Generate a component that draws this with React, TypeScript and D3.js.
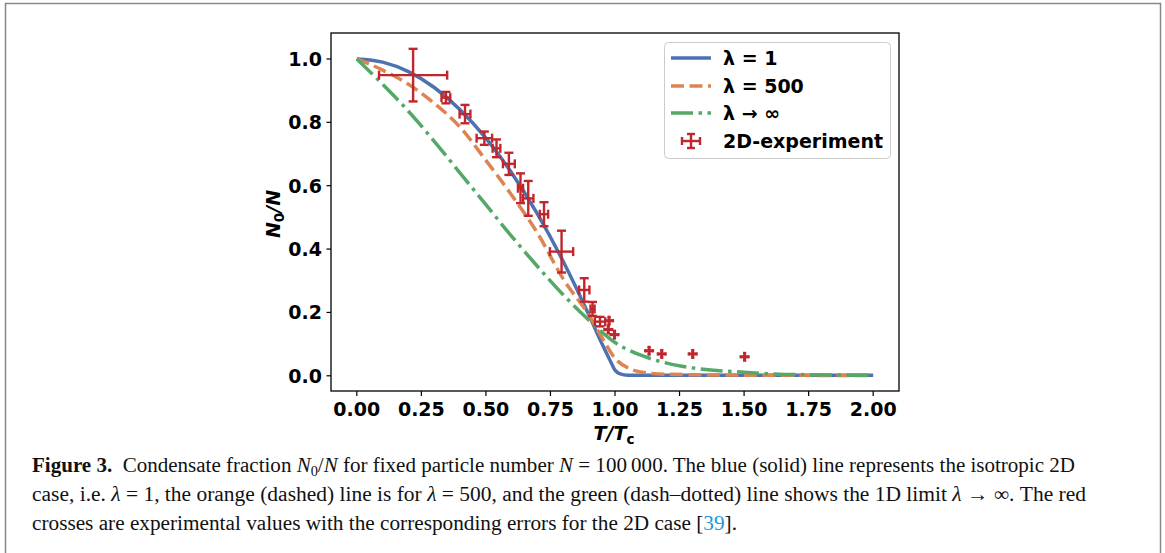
import React from "react";
import * as d3 from "d3";

// ---- data ----
const T_BLUE = [0, 0.1, 0.2, 0.3, 0.4, 0.5, 0.6, 0.7, 0.8, 0.9, 0.95, 0.98, 1.0, 1.02, 1.05, 1.2, 1.5, 2.0];
const V_BLUE = [1, 0.99, 0.96, 0.91, 0.84, 0.75, 0.64, 0.51, 0.36, 0.19, 0.1, 0.05, 0.018, 0.006, 0.002, 0.002, 0.002, 0.002];

const T_ORANGE = [0, 0.1, 0.2, 0.3, 0.4, 0.5, 0.6, 0.7, 0.8, 0.9, 0.95, 1.0, 1.05, 1.1, 1.2, 1.5, 2.0];
const V_ORANGE = [1, 0.965, 0.92, 0.86, 0.785, 0.68, 0.57, 0.45, 0.305, 0.19, 0.12, 0.055, 0.025, 0.012, 0.005, 0.002, 0.001];

const T_GREEN = [0, 0.1, 0.2, 0.3, 0.4, 0.5, 0.6, 0.7, 0.8, 0.9, 1.0, 1.1, 1.2, 1.3, 1.5, 1.7, 2.0];
const V_GREEN = [1, 0.92, 0.835, 0.74, 0.64, 0.54, 0.44, 0.345, 0.255, 0.175, 0.105, 0.065, 0.04, 0.025, 0.011, 0.004, 0.002];

const EXP_T = [0.218, 0.345, 0.419, 0.494, 0.541, 0.589, 0.634, 0.664, 0.725, 0.793, 0.881, 0.913, 0.942, 0.977, 0.974, 0.998, 1.132, 1.181, 1.301, 1.502];
const EXP_V = [0.949, 0.878, 0.826, 0.75, 0.718, 0.669, 0.592, 0.56, 0.51, 0.392, 0.271, 0.211, 0.171, 0.174, 0.146, 0.13, 0.079, 0.069, 0.069, 0.06];
const EXP_XERR = [0.132, 0.017, 0.021, 0.03, 0.015, 0.023, 0.01, 0.02, 0.016, 0.045, 0.02, 0.008, 0.02, 0.015, 0.015, 0.015, 0.015, 0.015, 0.015, 0.015];
const EXP_YERR = [0.083, 0.018, 0.029, 0.021, 0.028, 0.035, 0.047, 0.055, 0.038, 0.066, 0.037, 0.022, 0.015, 0.012, 0.012, 0.012, 0.012, 0.012, 0.012, 0.012];

const X_TICKS = [0, 0.25, 0.5, 0.75, 1.0, 1.25, 1.5, 1.75, 2.0];
const Y_TICKS = [0, 0.2, 0.4, 0.6, 0.8, 1.0];

const BLUE = "#4c72b0";
const ORANGE = "#dd8452";
const GREEN = "#55a868";
const RED = "#c0272d";

const FONT = "DejaVu Sans, sans-serif";
const SERIF = "Liberation Serif, DejaVu Serif, serif";
const FS = 19;
const LW = 3.5;
const DASH = "13,5.5";
const DASHDOT = "22,5.5,3.5,5.5";

export default function App() {
  const x = d3.scaleLinear().domain([-0.1, 2.1]).range([331, 899]);
  const y = d3.scaleLinear().domain([-0.048, 1.082]).range([391, 33]);
  const line = d3
    .line<[number, number]>()
    .x((d) => x(d[0]))
    .y((d) => y(d[1]))
    .curve(d3.curveMonotoneX);
  const pts = (t: number[], v: number[]) => t.map((tt, i) => [tt, v[i]] as [number, number]);

  return (
    <svg width={1165} height={553} style={{ position: "absolute", left: 0, top: 0 }}>
      <rect x={0} y={0} width={1165} height={553} fill="#fff" />
      {/* outer frame */}
      <rect x={5.5} y={3.5} width={1155} height={600} fill="none" stroke="#888" strokeWidth={1.5} />

      {/* curves */}
      <path d={line(pts(T_BLUE, V_BLUE)) || ""} fill="none" stroke={BLUE} strokeWidth={LW} />
      <path d={line(pts(T_ORANGE, V_ORANGE)) || ""} fill="none" stroke={ORANGE} strokeWidth={LW} strokeDasharray={DASH} />
      <path d={line(pts(T_GREEN, V_GREEN)) || ""} fill="none" stroke={GREEN} strokeWidth={LW} strokeDasharray={DASHDOT} />

      {/* experiment error bars */}
      <g stroke={RED} strokeWidth={2.4}>
        {EXP_T.map((t, i) => {
          const cx = x(t);
          const cy = y(EXP_V[i]);
          const x0 = x(t - EXP_XERR[i]);
          const x1 = x(t + EXP_XERR[i]);
          const y0 = y(EXP_V[i] - EXP_YERR[i]);
          const y1 = y(EXP_V[i] + EXP_YERR[i]);
          const cap = EXP_YERR[i] < 0.013 ? 1.6 : 4.5;
          return (
            <g key={i}>
              <line x1={x0} x2={x1} y1={cy} y2={cy} strokeWidth={EXP_YERR[i] < 0.013 ? 3 : 2.4} />
              <line x1={cx} x2={cx} y1={y0} y2={y1} strokeWidth={EXP_YERR[i] < 0.013 ? 3 : 2.4} />
              <line x1={x0} x2={x0} y1={cy - cap} y2={cy + cap} />
              <line x1={x1} x2={x1} y1={cy - cap} y2={cy + cap} />
              <line x1={cx - cap} x2={cx + cap} y1={y0} y2={y0} />
              <line x1={cx - cap} x2={cx + cap} y1={y1} y2={y1} />
            </g>
          );
        })}
      </g>

      {/* axes frame */}
      <rect x={331} y={33} width={568} height={358} fill="none" stroke="#000" strokeWidth={1.3} />

      {/* x ticks */}
      {X_TICKS.map((t) => (
        <g key={"x" + t}>
          <line x1={x(t)} x2={x(t)} y1={391} y2={396} stroke="#000" strokeWidth={1.2} />
          <text x={x(t)} y={415.5} textAnchor="middle" fontFamily={FONT} fontWeight="bold" fontSize={FS}>
            {t.toFixed(2)}
          </text>
        </g>
      ))}
      {/* y ticks */}
      {Y_TICKS.map((t) => (
        <g key={"y" + t}>
          <line x1={326.5} x2={331} y1={y(t)} y2={y(t)} stroke="#000" strokeWidth={1.2} />
          <text x={322} y={y(t) + 7} textAnchor="end" fontFamily={FONT} fontWeight="bold" fontSize={FS}>
            {t.toFixed(1)}
          </text>
        </g>
      ))}

      {/* axis labels */}
      <text x={614} y={440} textAnchor="middle" fontFamily={FONT} fontWeight="bold" fontStyle="italic" fontSize={FS}>
        T/T
        <tspan dy={4} fontSize={13.5} fontStyle="normal">c</tspan>
      </text>
      <text
        transform="translate(280,214) rotate(-90)"
        textAnchor="middle"
        fontFamily={FONT}
        fontWeight="bold"
        fontStyle="italic"
        fontSize={FS}
      >
        N
        <tspan dy={4} fontSize={13.5} fontStyle="normal">0</tspan>
        <tspan dy={-4}>/N</tspan>
      </text>

      {/* legend */}
      <rect x={664.5} y={42.5} width={226} height={116} rx={4} fill="#fff" fillOpacity={0.8} stroke="#ccc" strokeWidth={1} />
      <line x1={671} x2={711} y1={58} y2={58} stroke={BLUE} strokeWidth={LW} />
      <line x1={671} x2={711} y1={86} y2={86} stroke={ORANGE} strokeWidth={LW} strokeDasharray={DASH} />
      <line x1={671} x2={711} y1={113} y2={113} stroke={GREEN} strokeWidth={LW} strokeDasharray={DASHDOT} />
      <g stroke={RED} strokeWidth={2.4}>
        <line x1={682} x2={700} y1={141} y2={141} />
        <line x1={691} x2={691} y1={134} y2={148} />
        <line x1={682} x2={682} y1={137} y2={145} />
        <line x1={700} x2={700} y1={137} y2={145} />
        <line x1={687} x2={695} y1={134} y2={134} />
        <line x1={687} x2={695} y1={148} y2={148} />
      </g>
      <g fontFamily={FONT} fontWeight="bold" fontSize={FS}>
        <text x={723} y={64.5}>λ = 1</text>
        <text x={723} y={92.5}>λ = 500</text>
        <text x={723} y={119.5}>λ → ∞</text>
        <text x={723} y={147.5}>2D-experiment</text>
      </g>

      {/* caption */}
      <g fontFamily={SERIF} fontSize={20.5} fill="#111">
        <text x={32} y={472} textLength={1043} lengthAdjust="spacingAndGlyphs">
          <tspan fontWeight="bold">Figure 3.</tspan>
          {"\u00a0\u00a0Condensate fraction "}
          <tspan fontStyle="italic">N</tspan>
          <tspan dy={4} fontSize={14}>0</tspan>
          <tspan dy={-4}>/</tspan>
          <tspan fontStyle="italic">N</tspan>
          {" for fixed particle number "}
          <tspan fontStyle="italic">N</tspan>
          {" = 100\u2009000. The blue (solid) line represents the isotropic 2D"}
        </text>
        <text x={32} y={501} textLength={1054} lengthAdjust="spacingAndGlyphs">
          {"case, i.e. "}
          <tspan fontStyle="italic">λ</tspan>
          {" = 1, the orange (dashed) line is for "}
          <tspan fontStyle="italic">λ</tspan>
          {" = 500, and the green (dash\u2013dotted) line shows the 1D limit "}
          <tspan fontStyle="italic">λ</tspan>
          {" \u2192 \u221e. The red"}
        </text>
        <text x={32} y={530} textLength={705} lengthAdjust="spacingAndGlyphs">
          {"crosses are experimental values with the corresponding errors for the 2D case ["}
          <tspan fill="#1a9ad6">39</tspan>
          {"]."}
        </text>
      </g>
    </svg>
  );
}
